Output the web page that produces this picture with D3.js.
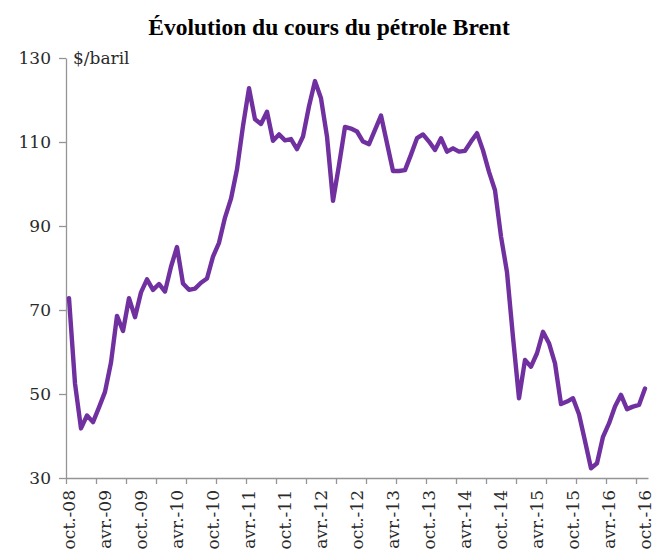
<!DOCTYPE html>
<html>
<head>
<meta charset="utf-8">
<script src="https://cdn.jsdelivr.net/npm/d3@7"></script>
<style>
  body { margin: 0; background: #fff; }
  svg { display: block; }
</style>
</head>
<body>
<svg id="brent-chart" width="656" height="555"></svg>
<script>
// mois : oct. 2008 -> oct. 2016
const moisNoms = ["janv.", "févr.", "mars", "avr.", "mai", "juin", "juil.", "août", "sept.", "oct.", "nov.", "déc."];
const mois = [];
for (let a = 2008; a <= 2016; a++) {
    moisNoms.forEach((m, k) => {
        if ((a === 2008 && k < 9) || (a === 2016 && k > 9)) return;
        mois.push(`${m}-${String(a).slice(2)}`);
    });
}

// Brent, $/baril (moyennes mensuelles)
const prix2008 = [72.8, 52.5, 41.8];
const prix2009 = [44.9, 43.3, 46.8, 50.5, 57.5, 68.6, 65.0, 72.8, 68.3, 74.2, 77.3, 74.8];
const prix2010 = [76.2, 74.4, 80.3, 85.0, 76.3, 74.8, 75.1, 76.5, 77.5, 82.7, 86.0, 92.0];
const prix2011 = [96.5, 103.5, 113.8, 122.8, 115.4, 114.3, 117.2, 110.3, 111.8, 110.4, 110.7, 108.3];
const prix2012 = [111.3, 118.5, 124.5, 120.4, 111.3, 96.0, 104.5, 113.6, 113.2, 112.5, 110.1, 109.5];
const prix2013 = [112.9, 116.3, 109.7, 103.1, 103.1, 103.3, 107.0, 110.9, 111.8, 110.1, 108.1, 110.9];
const prix2014 = [107.7, 108.5, 107.7, 107.9, 110.1, 112.1, 108.0, 102.9, 98.5, 87.5, 79.0, 63.5];
const prix2015 = [49.0, 58.1, 56.5, 59.7, 64.8, 62.1, 57.3, 47.6, 48.2, 49.0, 45.2, 38.8];
const prix2016 = [32.3, 33.5, 39.8, 43.0, 47.0, 49.8, 46.4, 47.0, 47.4, 51.3];
const prix = [].concat(prix2008, prix2009, prix2010, prix2011, prix2012, prix2013, prix2014, prix2015, prix2016);

const yTicks = [30, 50, 70, 90, 110, 130];
const xLabels = ["oct.-08", "avr.-09", "oct.-09", "avr.-10", "oct.-10", "avr.-11", "oct.-11", "avr.-12",
    "oct.-12", "avr.-13", "oct.-13", "avr.-14", "oct.-14", "avr.-15", "oct.-15", "avr.-16", "oct.-16"];

const data = mois.map((m, i) => ({ mois: m, prix: prix[i] }));

const svg = d3.select("#brent-chart");
const plotLeft = 66, plotRight = 648, plotTop = 58, plotBottom = 478;
const police = "'DejaVu Serif', serif";

// Titre
svg.append("text")
    .attr("x", 329)
    .attr("y", 35)
    .attr("text-anchor", "middle")
    .style("font-family", "'Liberation Serif', 'Times New Roman', serif")
    .style("font-weight", "bold")
    .style("font-size", "23.5px")
    .attr("fill", "#000")
    .text("Évolution du cours du pétrole Brent");

// Echelles
const xBand = d3.scaleBand().domain(mois).range([plotLeft, plotRight]).padding(0);
const xIdx = d3.scaleLinear().domain([0, mois.length]).range([plotLeft, plotRight]);
const yScale = d3.scaleLinear().domain([30, 130]).range([plotBottom, plotTop]);

// Axe Y
const yAxisG = svg.append("g")
    .attr("transform", `translate(${plotLeft},0)`)
    .call(d3.axisLeft(yScale).tickValues(yTicks).tickSize(7).tickSizeOuter(0).tickPadding(8));
yAxisG.select(".domain").attr("stroke", "#959595").attr("stroke-width", 1.3);
yAxisG.selectAll(".tick line").attr("stroke", "#959595").attr("stroke-width", 1.3);
yAxisG.selectAll(".tick text")
    .style("font-family", police)
    .style("font-size", "17px")
    .attr("fill", "#2a2a2a");

// Axe X (graduations toutes les 5 catégories)
const xAxisG = svg.append("g")
    .attr("transform", `translate(0,${plotBottom})`)
    .call(d3.axisBottom(xIdx).tickValues(d3.range(0, mois.length, 5)).tickFormat("").tickSize(6).tickSizeOuter(0));
xAxisG.select(".domain").attr("stroke", "#959595").attr("stroke-width", 1.3);
xAxisG.selectAll(".tick line").attr("stroke", "#959595").attr("stroke-width", 1.3);

// Etiquettes X (tous les 6 mois)
svg.append("g")
    .selectAll("text")
    .data(xLabels)
    .enter()
    .append("text")
    .attr("transform", d => `translate(${xBand(d) + xBand.bandwidth() / 2},490) rotate(-90)`)
    .attr("dy", "0.36em")
    .attr("text-anchor", "end")
    .style("font-family", police)
    .style("font-size", "17px")
    .attr("fill", "#2a2a2a")
    .text(d => d);

// Unité
svg.append("text")
    .attr("x", 73)
    .attr("y", 64)
    .style("font-family", police)
    .style("font-size", "17px")
    .attr("fill", "#2a2a2a")
    .text("$/baril");

// Courbe
const line = d3.line()
    .x(d => xBand(d.mois) + xBand.bandwidth() / 2)
    .y(d => yScale(d.prix));

svg.append("path")
    .datum(data)
    .attr("d", line)
    .attr("fill", "none")
    .attr("stroke", "#7030a0")
    .attr("stroke-width", 4.4)
    .attr("stroke-linejoin", "round")
    .attr("stroke-linecap", "round");
</script>
</body>
</html>
